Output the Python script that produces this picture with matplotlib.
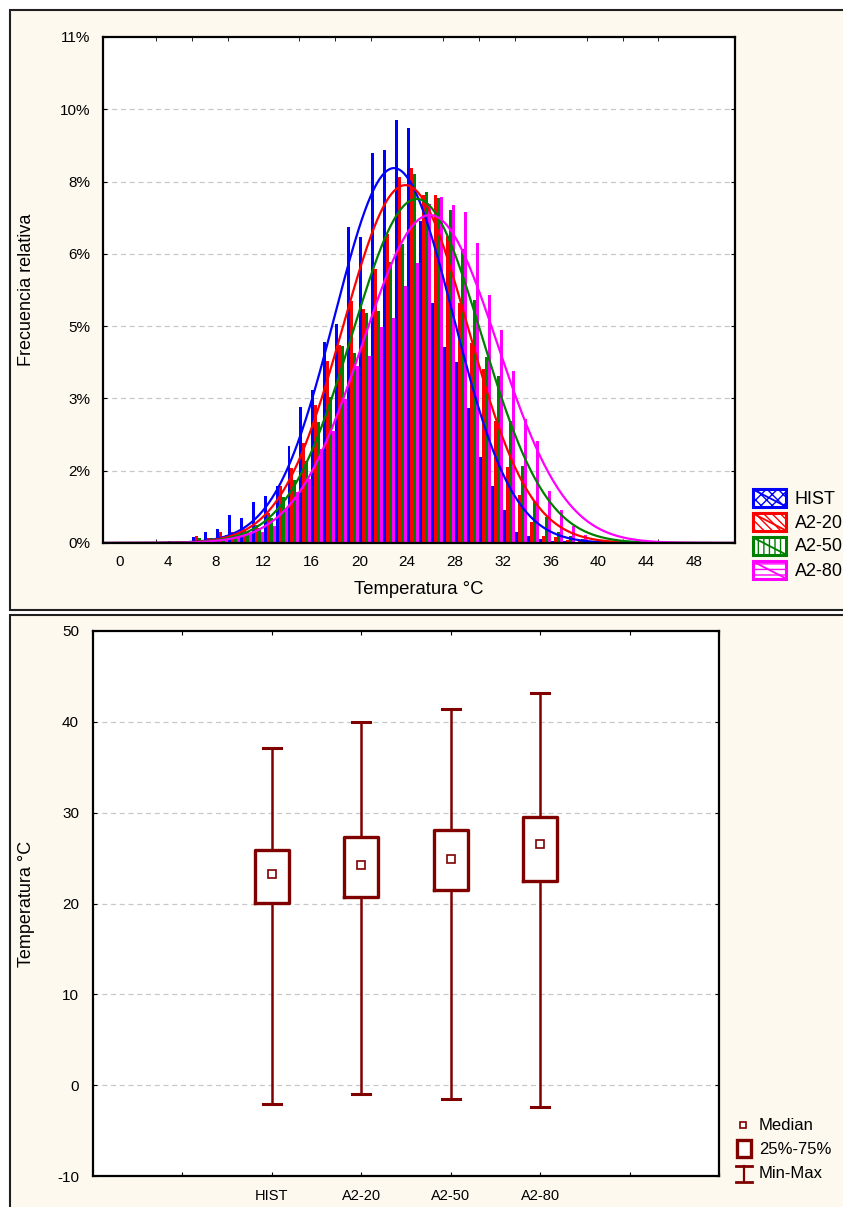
import numpy as np
import matplotlib
matplotlib.use("Agg")
import matplotlib.pyplot as plt
from matplotlib.patches import Rectangle
from matplotlib.lines import Line2D

plt.rcParams['font.family'] = ['Liberation Sans', 'DejaVu Sans']
plt.rcParams['hatch.linewidth'] = 1.0
plt.rcParams['axes.unicode_minus'] = False

W, H = 843, 1207
CREAM = '#fdf9ef'
GRID = '#c8c8c8'
BOXC = '#800000'

# ---- histograma: frecuencia relativa (%) por clase de 1 °C (0..44) ----
temp_bins = np.arange(0, 45)
freq_hist = [0, 0, 0, 0, 0.04, 0.04, 0.13, 0.24, 0.30, 0.60, 0.55, 0.89, 1.02, 1.23, 2.10,
             2.95, 3.32, 4.37, 4.77, 6.88, 6.66, 8.48, 8.54, 9.20, 9.03, 7.00, 5.22, 4.26, 3.93,
             2.93, 1.86, 1.24, 0.71, 0.23, 0.15, 0.09, 0.05, 0.04, 0.02, 0.01, 0, 0, 0, 0, 0]
freq_a220 = [0, 0, 0, 0, 0, 0.01, 0.15, 0.10, 0.24, 0.24, 0.30, 0.40, 0.65, 1.25, 1.62,
             2.18, 2.99, 3.95, 4.31, 5.27, 5.09, 5.95, 6.72, 7.95, 8.15, 7.57, 7.57, 6.68, 5.22,
             4.35, 3.78, 2.66, 1.65, 1.04, 0.45, 0.15, 0.12, 0.07, 0.05, 0.03, 0.02, 0, 0, 0, 0]
freq_a250 = [0, 0, 0, 0, 0, 0.01, 0.10, 0.11, 0.13, 0.19, 0.25, 0.32, 0.55, 1.01, 1.36,
             1.79, 2.63, 3.18, 4.28, 4.13, 5.00, 5.05, 6.10, 6.50, 8.02, 7.62, 7.49, 7.23, 6.39,
             5.29, 4.05, 3.62, 2.66, 1.67, 0.91, 0.56, 0.25, 0.15, 0.08, 0.05, 0.03, 0.01, 0, 0, 0]
freq_a280 = [0, 0, 0, 0, 0, 0, 0.07, 0.09, 0.17, 0.16, 0.21, 0.25, 0.36, 0.73, 1.10,
             1.40, 2.05, 2.43, 3.13, 3.85, 4.07, 4.70, 4.89, 5.58, 6.08, 7.38, 7.52, 7.35, 7.19,
             6.52, 5.40, 4.64, 3.73, 2.69, 2.22, 1.13, 0.71, 0.36, 0.18, 0.09, 0.05, 0.03, 0.01, 0, 0]

series = ['HIST', 'A2-20', 'A2-50', 'A2-80']
colors = ['#0000ff', '#ff0000', '#008000', '#ff00ff']
hatches = ['xxx', '\\\\\\\\', '|||', '---']

# ajuste normal de cada serie (media, desviación, altura máxima en %)
fit_mean = [22.9, 23.85, 24.8, 25.9]
fit_sd = [4.95, 5.2, 5.4, 5.65]
fit_peak = [8.15, 7.78, 7.48, 7.13]

yticks_pct = np.arange(8) * 11 / 7
ytick_labels = ['0%', '2%', '3%', '5%', '6%', '8%', '10%', '11%']

# ---- diagrama de caja: temperatura °C ----
t_min = [-2.1, -1.0, -1.5, -2.4]
t_q1 = [20.1, 20.7, 21.5, 22.5]
t_med = [23.2, 24.2, 24.9, 26.5]
t_q3 = [25.9, 27.3, 28.1, 29.5]
t_max = [37.1, 40.0, 41.4, 43.2]


def fx(x):
    return x / W


def fy(y):
    return 1 - y / H


fig = plt.figure(figsize=(W / 100, H / 100), dpi=100, facecolor='white')

# marcos de los dos paneles
for top, bot in [(10, 610), (615, 1215)]:
    fig.add_artist(Rectangle((fx(10), fy(bot)), fx(850 - 10), (bot - top) / H,
                             transform=fig.transFigure, facecolor=CREAM,
                             edgecolor='#202020', lw=1.5, zorder=0))

# ---------------- histograma ----------------
ax1 = fig.add_axes([fx(103), fy(543), fx(735 - 103), (543 - 37) / H])
ax1.set_facecolor('white')
freqs = [freq_hist, freq_a220, freq_a250, freq_a280]
for i, (f, c) in enumerate(zip(freqs, colors)):
    ax1.bar(temp_bins + i * 0.25, f, width=0.25, align='edge', color=c,
            linewidth=0, zorder=2)
xs = np.linspace(-1.4, 51.4, 600)
for m, s, p, c in zip(fit_mean, fit_sd, fit_peak, colors):
    ax1.plot(xs, p * np.exp(-0.5 * ((xs - m) / s) ** 2), color=c, lw=1.6, zorder=3)

ax1.set_xlim(-1.42, 51.4)
ax1.set_ylim(0, 11)
ax1.set_xticks(np.arange(0, 49, 4))
ax1.set_xticks(np.arange(0, 49, 3), minor=True)
ax1.set_yticks(yticks_pct)
ax1.set_yticklabels(ytick_labels)
ax1.tick_params(axis='x', which='major', length=0, pad=9, labelsize=11)
ax1.tick_params(axis='x', which='minor', direction='in', length=3, top=True, bottom=True)
ax1.tick_params(axis='y', direction='in', length=3, left=True, right=True,
                pad=9, labelsize=11)
for yv in yticks_pct[1:-1]:
    ax1.axhline(yv, color=GRID, lw=0.9, ls=(0, (4, 3)), zorder=1)
for sp in ax1.spines.values():
    sp.set_linewidth(1.6)
    sp.set_zorder(5)
ax1.set_xlabel('Temperatura °C', fontsize=13.3, labelpad=8)
ax1.set_ylabel('Frecuencia relativa', fontsize=13)
ax1.yaxis.set_label_coords(fx(35 - 103) / fx(735 - 103), 0.5)

# leyenda del histograma
leg_top = [489, 513, 537, 561]
for name, c, h, yt in zip(series, colors, hatches, leg_top):
    fig.add_artist(Rectangle((fx(753), fy(yt + 18)), fx(33), 18 / H,
                             transform=fig.transFigure, facecolor='white',
                             edgecolor=c, hatch=h, lw=2.2, zorder=6))
    fig.add_artist(Line2D([fx(754), fx(785)], [fy(yt + 1), fy(yt + 17)],
                          transform=fig.transFigure, color=c, lw=1.3, zorder=7))
    fig.text(fx(795), fy(yt + 10), name, fontsize=13, va='center', ha='left')

# ---------------- diagrama de caja ----------------
ax2 = fig.add_axes([fx(93), fy(1176), fx(719 - 93), (1176 - 631) / H])
ax2.set_facecolor('white')
pos = np.arange(1, len(series) + 1)
stats = [dict(med=md, q1=a, q3=b, whislo=lo, whishi=hi, label=n)
         for n, lo, a, md, b, hi in zip(series, t_min, t_q1, t_med, t_q3, t_max)]
ax2.bxp(stats, positions=pos, widths=0.38, showfliers=False, capwidths=0.2,
        boxprops=dict(color=BOXC, lw=2.4), whiskerprops=dict(color=BOXC, lw=1.8),
        capprops=dict(color=BOXC, lw=2.2), medianprops=dict(visible=False),
        zorder=3)
ax2.plot(pos, t_med, ls='none', marker='s', ms=6, mfc='white', mec=BOXC, mew=1.2,
         zorder=4)
ax2.set_xlim(-1, 6)
ax2.set_ylim(-10, 50)
ax2.set_xticks(np.arange(0, 7))
ax2.set_xticklabels(['', 'HIST', 'A2-20', 'A2-50', 'A2-80', '', ''])
ax2.set_yticks(np.arange(-10, 51, 10))
ax2.tick_params(axis='x', direction='in', length=3, top=True, bottom=True,
                pad=9, labelsize=10.5)
ax2.tick_params(axis='y', direction='in', length=3, left=True, right=True,
                pad=10, labelsize=11)
for yv in range(0, 50, 10):
    ax2.axhline(yv, color=GRID, lw=0.9, ls=(0, (4, 3)), zorder=1)
for sp in ax2.spines.values():
    sp.set_linewidth(1.6)
    sp.set_zorder(5)
ax2.set_ylabel('Temperatura °C', fontsize=13)
ax2.yaxis.set_label_coords(fx(35 - 93) / fx(719 - 93), 0.5)

# leyenda del diagrama de caja
fig.add_artist(Line2D([fx(743)], [fy(1125)], transform=fig.transFigure, ls='none',
                      marker='s', ms=5, mfc='white', mec=BOXC, mew=1.2))
fig.text(fx(759), fy(1125), 'Median', fontsize=12, va='center')
fig.add_artist(Rectangle((fx(737), fy(1157)), fx(14), 17 / H, transform=fig.transFigure,
                         facecolor='white', edgecolor=BOXC, lw=2.4))
fig.text(fx(759), fy(1149), '25%-75%', fontsize=12, va='center')
fig.add_artist(Line2D([fx(744), fx(744)], [fy(1166), fy(1182)],
                      transform=fig.transFigure, color=BOXC, lw=1.6))
for yy in (1166, 1182):
    fig.add_artist(Line2D([fx(736), fx(752)], [fy(yy), fy(yy)],
                          transform=fig.transFigure, color=BOXC, lw=2.0))
fig.text(fx(759), fy(1173), 'Min-Max', fontsize=12, va='center')

fig.savefig('out.png', dpi=100, facecolor='white')
